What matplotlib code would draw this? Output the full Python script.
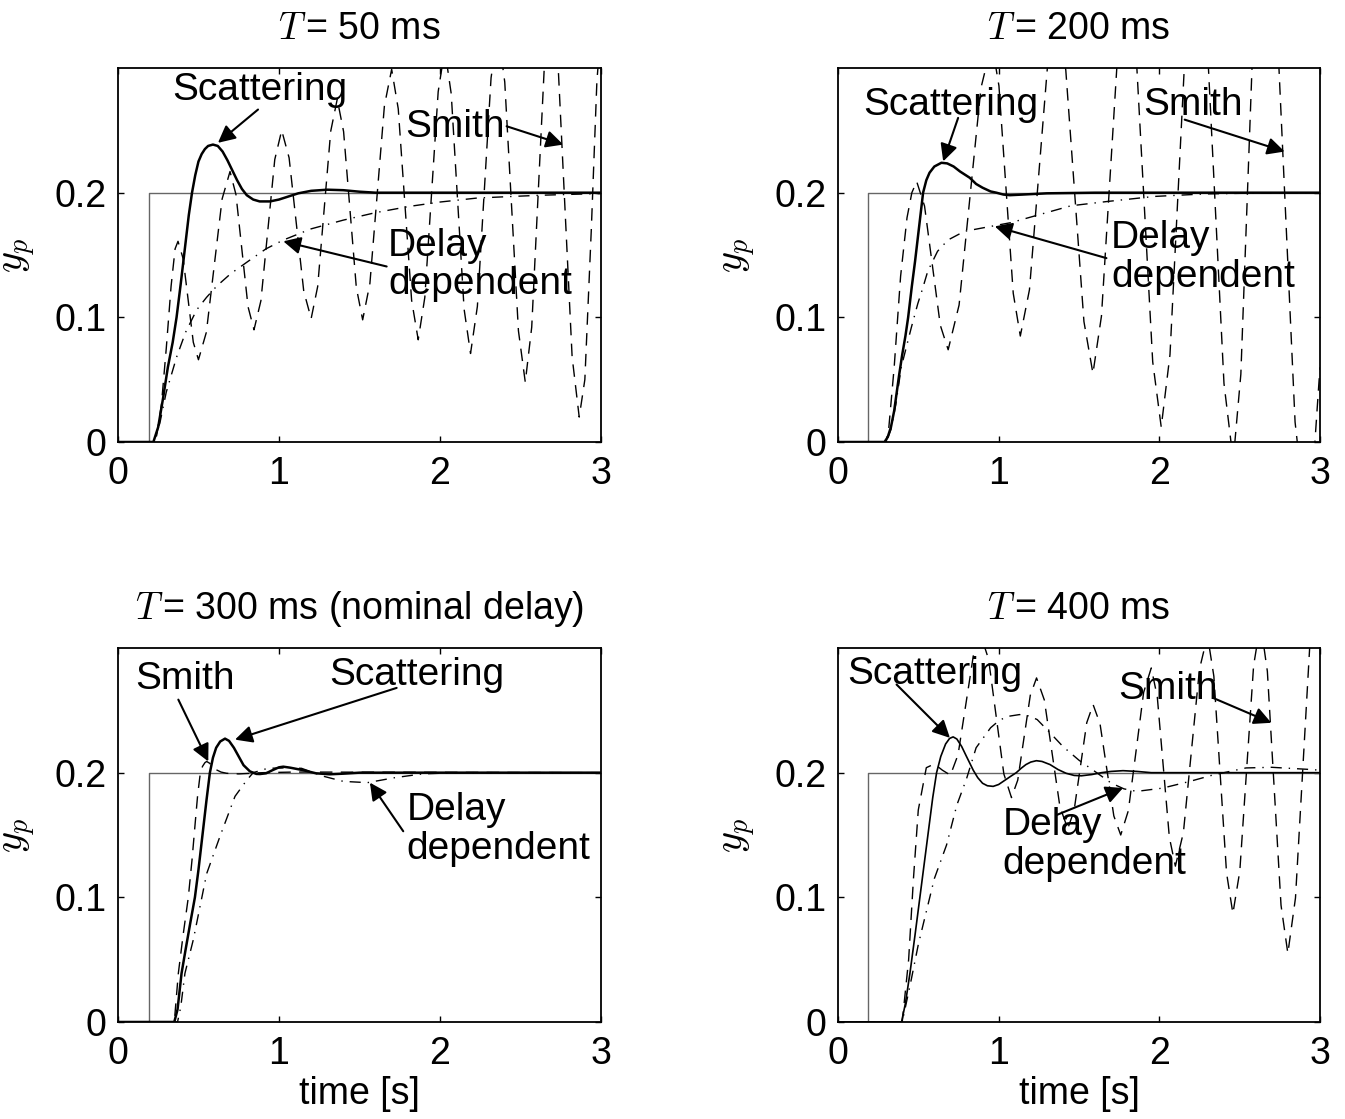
import matplotlib
matplotlib.use("Agg")
import matplotlib.pyplot as plt

plt.rcParams['font.family'] = ['Liberation Sans', 'DejaVu Sans']
plt.rcParams['mathtext.fontset'] = 'cm'

# ---------------- data ----------------
titles = ["$T\\,$= 50 ms", "$T\\,$= 200 ms", "$T\\,$= 300 ms (nominal delay)", "$T\\,$= 400 ms"]
x_ticks = [0, 1, 2, 3]
y_ticks = [0, 0.1, 0.2]
y_tick_labels = ["0", "0.1", "0.2"]

ref_t = [0, 0.19, 0.19, 3.0]
ref_y = [0, 0, 0.2, 0.2]

# T = 50 ms
scat50_t = [0, 0.22, 0.25, 0.28, 0.31, 0.34, 0.364, 0.39, 0.42, 0.44, 0.46, 0.48, 0.50, 0.52, 0.54, 0.56, 0.59,
            0.62, 0.65, 0.68, 0.71, 0.74, 0.77, 0.80, 0.84, 0.88, 0.944, 1.0, 1.06, 1.12, 1.2, 1.3, 1.4, 1.5, 1.6, 3.0]
scat50_y = [0, 0, 0.012, 0.035, 0.06, 0.08, 0.1, 0.127, 0.16, 0.182, 0.2, 0.214, 0.225, 0.231, 0.235, 0.2375, 0.2386,
            0.2375, 0.233, 0.226, 0.218, 0.210, 0.203, 0.198, 0.1945, 0.193, 0.193, 0.1945, 0.197, 0.1995, 0.2015, 0.2024, 0.202, 0.2008, 0.2, 0.2]
smith50_t = [0, 0.22, 0.24, 0.27, 0.30, 0.33, 0.355, 0.373, 0.405, 0.4365, 0.468, 0.50, 0.549, 0.598, 0.647,
             0.696, 0.733, 0.7705, 0.808, 0.845, 0.888, 0.931, 0.974, 1.017, 1.063, 1.1085, 1.154, 1.20,
             1.2405, 1.281, 1.3215, 1.362, 1.4015, 1.441, 1.4805, 1.52, 1.565, 1.61, 1.655, 1.70, 1.741,
             1.7825, 1.824, 1.865, 1.906, 1.9475, 1.989, 2.03, 2.07, 2.11, 2.15, 2.19, 2.2325, 2.275,
             2.3175, 2.36, 2.4025, 2.445, 2.4875, 2.53, 2.57, 2.61, 2.65, 2.69, 2.734, 2.7775, 2.821,
             2.865, 2.90, 2.94, 2.975, 3.0]
smith50_y = [0, 0, 0.005, 0.03, 0.075, 0.125, 0.155, 0.161, 0.147, 0.1135, 0.080, 0.066, 0.088, 0.1415, 0.195,
             0.217, 0.1985, 0.1535, 0.1085, 0.09, 0.1134, 0.17, 0.2266, 0.250, 0.228, 0.1745, 0.121, 0.099,
             0.1247, 0.187, 0.2493, 0.275, 0.249, 0.1865, 0.124, 0.098, 0.1273, 0.1985, 0.2697, 0.299, 0.2673,
             0.1905, 0.1137, 0.082, 0.116, 0.1985, 0.281, 0.315, 0.2794, 0.193, 0.1066, 0.071, 0.1088, 0.2005,
             0.2922, 0.33, 0.2888, 0.189, 0.0892, 0.048, 0.0921, 0.199, 0.3059, 0.35, 0.3018, 0.185, 0.0682,
             0.02, 0.05, 0.17, 0.29, 0.33]
delay50_t = [0, 0.22, 0.26, 0.30, 0.364, 0.42, 0.489, 0.55, 0.613, 0.70, 0.82, 0.92, 1.027, 1.2, 1.40, 1.6, 1.81, 2.0, 2.23, 2.45, 2.64, 2.85, 3.0]
delay50_y = [0, 0, 0.015, 0.04, 0.068, 0.088, 0.106, 0.116, 0.125, 0.135, 0.146, 0.155, 0.162, 0.171, 0.178, 0.184, 0.189, 0.1925, 0.1957, 0.197, 0.198, 0.1988, 0.1993]

# T = 200 ms
scat200_t = [0, 0.29, 0.31, 0.33, 0.35, 0.365, 0.38, 0.40, 0.42, 0.437, 0.46, 0.48, 0.50, 0.53, 0.55, 0.57, 0.60,
             0.644, 0.68, 0.72, 0.76, 0.82, 0.86, 0.90, 0.95, 0.986, 1.03, 1.07, 1.15, 1.3, 1.6, 3.0]
scat200_y = [0, 0, 0.004, 0.012, 0.025, 0.039, 0.053, 0.07, 0.085, 0.1, 0.125, 0.145, 0.167, 0.2, 0.21, 0.216, 0.221,
             0.224, 0.2235, 0.221, 0.217, 0.212, 0.207, 0.204, 0.201, 0.2, 0.1985, 0.198, 0.1985, 0.1995, 0.2, 0.2]
smith200_t = [0, 0.30, 0.317, 0.35, 0.39, 0.43, 0.46, 0.49, 0.539, 0.588, 0.637, 0.686, 0.754, 0.822, 0.89,
              0.958, 1.002, 1.0465, 1.091, 1.135, 1.192, 1.2485, 1.305, 1.362, 1.418, 1.4745, 1.531, 1.587,
              1.640, 1.6935, 1.747, 1.80, 1.853, 1.906, 1.959, 2.012, 2.0665, 2.121, 2.1755, 2.23, 2.2875,
              2.345, 2.4025, 2.46, 2.5075, 2.555, 2.6025, 2.65, 2.715, 2.78, 2.845, 2.91, 2.95, 3.0]
smith200_y = [0, 0, 0.012, 0.06, 0.133, 0.18, 0.2, 0.209, 0.1893, 0.1415, 0.0937, 0.074, 0.1099, 0.197, 0.284,
              0.32, 0.2857, 0.2025, 0.1193, 0.085, 0.1222, 0.2125, 0.3028, 0.34, 0.2984, 0.1975, 0.0966, 0.055,
              0.101, 0.2125, 0.324, 0.37, 0.3177, 0.191, 0.0643, 0.012, 0.0701, 0.211, 0.352, 0.41, 0.348,
              0.1975, 0.047, -0.015, 0.0544, 0.2225, 0.3907, 0.46, 0.384, 0.2, 0.016, -0.06, -0.035, 0.06]
delay200_t = [0, 0.30, 0.33, 0.36, 0.394, 0.456, 0.497, 0.528, 0.559, 0.62, 0.684, 0.787, 0.911, 1.077, 1.243, 1.45, 1.68, 1.97, 2.28, 2.6, 3.0]
delay200_y = [0, 0, 0.01, 0.03, 0.06, 0.0915, 0.111, 0.1235, 0.137, 0.153, 0.162, 0.169, 0.172, 0.176, 0.182, 0.1895, 0.193, 0.197, 0.199, 0.1997, 0.2]

# T = 300 ms
scat300_t = [0, 0.35, 0.37, 0.395, 0.42, 0.45, 0.478, 0.50, 0.525, 0.55, 0.571, 0.59, 0.61, 0.635, 0.665, 0.69, 0.72,
             0.75, 0.78, 0.82, 0.86, 0.882, 0.92, 0.96, 1.0, 1.027, 1.07, 1.15, 1.23, 1.315, 1.4, 1.5, 3.0]
scat300_y = [0, 0, 0.01, 0.039, 0.058, 0.08, 0.1, 0.122, 0.15, 0.178, 0.2, 0.212, 0.22, 0.225, 0.2273, 0.2255, 0.22,
             0.213, 0.206, 0.201, 0.199, 0.1989, 0.1995, 0.202, 0.2043, 0.2048, 0.204, 0.202, 0.1995, 0.1987, 0.1992, 0.2, 0.2]
smith300_t = [0, 0.35, 0.375, 0.405, 0.437, 0.46, 0.48, 0.495, 0.509, 0.525, 0.54, 0.551, 0.57, 0.60, 0.64, 0.675, 0.75, 0.9, 1.1, 3.0]
smith300_y = [0, 0, 0.039, 0.07, 0.1, 0.13, 0.16, 0.182, 0.197, 0.205, 0.208, 0.209, 0.2075, 0.203, 0.2005, 0.1995, 0.199, 0.2, 0.2005, 0.2]
delay300_t = [0, 0.37, 0.39, 0.416, 0.468, 0.551, 0.634, 0.727, 0.80, 0.84, 0.93, 1.03, 1.14, 1.28, 1.40, 1.55, 1.72, 1.89, 2.1, 3.0]
delay300_y = [0, 0, 0.012, 0.039, 0.066, 0.119, 0.149, 0.181, 0.194, 0.2, 0.2035, 0.2038, 0.2035, 0.197, 0.193, 0.192, 0.196, 0.199, 0.2, 0.2]

# T = 400 ms
scat400_t = [0, 0.396, 0.42, 0.448, 0.48, 0.51, 0.535, 0.56, 0.59, 0.614, 0.64, 0.67, 0.695, 0.717, 0.74, 0.77, 0.80,
             0.842, 0.87, 0.90, 0.93, 0.966, 1.0, 1.04, 1.08, 1.11, 1.14, 1.17, 1.20, 1.235, 1.27, 1.32, 1.37, 1.42,
             1.47, 1.515, 1.58, 1.64, 1.70, 1.774, 1.86, 1.95, 3.0]
scat400_y = [0, 0, 0.015, 0.039, 0.07, 0.1, 0.125, 0.15, 0.18, 0.2, 0.213, 0.223, 0.2275, 0.2287, 0.227, 0.221, 0.213,
             0.202, 0.196, 0.1915, 0.1895, 0.189, 0.1905, 0.194, 0.1975, 0.2, 0.2035, 0.2065, 0.2085, 0.2096, 0.209, 0.2065, 0.2025, 0.1995,
             0.1978, 0.1975, 0.1985, 0.2, 0.201, 0.2016, 0.201, 0.2, 0.2]
smith400_t = [0, 0.40, 0.44, 0.47, 0.50, 0.55, 0.60, 0.65, 0.70, 0.7475, 0.795, 0.8425, 0.89, 0.9375, 0.985,
              1.0325, 1.08, 1.119, 1.158, 1.197, 1.236, 1.2845, 1.333, 1.3815, 1.43, 1.4695, 1.509, 1.5485,
              1.588, 1.631, 1.674, 1.717, 1.76, 1.8075, 1.855, 1.9025, 1.95, 1.9875, 2.025, 2.0625, 2.10,
              2.15, 2.20, 2.25, 2.30, 2.3395, 2.379, 2.4185, 2.458, 2.501, 2.544, 2.587, 2.63, 2.6725, 2.715,
              2.7575, 2.80, 2.8475, 2.895, 2.9425, 3.0]
smith400_y = [0, 0, 0.05, 0.115, 0.17, 0.204, 0.207, 0.202, 0.198, 0.2144, 0.254, 0.2937, 0.31, 0.291, 0.245,
              0.199, 0.18, 0.194, 0.228, 0.262, 0.276, 0.2583, 0.2155, 0.1727, 0.155, 0.1695, 0.2048, 0.2401,
              0.2546, 0.2393, 0.2023, 0.1653, 0.15, 0.1696, 0.217, 0.2644, 0.284, 0.2608, 0.2045, 0.1482, 0.125,
              0.152, 0.2175, 0.283, 0.31, 0.2774, 0.1985, 0.1196, 0.087, 0.121, 0.2035, 0.286, 0.32, 0.2813, 0.1875,
              0.0937, 0.055, 0.0995, 0.2075, 0.3155, 0.36]
delay400_t = [0, 0.40, 0.45, 0.50, 0.53, 0.60, 0.676, 0.74, 0.80, 0.86, 0.95, 1.0, 1.05, 1.13, 1.19, 1.24, 1.32, 1.40,
              1.50, 1.61, 1.70, 1.78, 1.86, 2.02, 2.19, 2.33, 2.54, 2.70, 2.92, 3.0]
delay400_y = [0, 0, 0.03, 0.062, 0.078, 0.115, 0.142, 0.174, 0.195, 0.22, 0.236, 0.2415, 0.245, 0.2466, 0.2455, 0.2426, 0.232, 0.221,
              0.21, 0.2, 0.1917, 0.187, 0.185, 0.1876, 0.193, 0.198, 0.2038, 0.2043, 0.2027, 0.202]

series = [
    (scat50_t, scat50_y, smith50_t, smith50_y, delay50_t, delay50_y),
    (scat200_t, scat200_y, smith200_t, smith200_y, delay200_t, delay200_y),
    (scat300_t, scat300_y, smith300_t, smith300_y, delay300_t, delay300_y),
    (scat400_t, scat400_y, smith400_t, smith400_y, delay400_t, delay400_y),
]

# annotations: (text, text_xy, ha, tail_xy, tip_xy)
annots = [
    [("Scattering", (0.882, 0.2827), 'center', (0.87, 0.2667), (0.621, 0.240)),
     ("Smith", (2.093, 0.253), 'center', (2.414, 0.2533), (2.766, 0.2386)),
     ("Delay\ndependent", (1.677, 0.142), 'left', (1.669, 0.1408), (1.027, 0.161))],
    [("Scattering", (0.703, 0.2707), 'center', (0.748, 0.26), (0.655, 0.2251)),
     ("Smith", (2.208, 0.270), 'center', (2.158, 0.2586), (2.78, 0.233)),
     ("Delay\ndependent", (1.70, 0.148), 'left', (1.671, 0.1475), (0.976, 0.173))],
    [("Smith", (0.416, 0.2755), 'center', (0.375, 0.2586), (0.561, 0.209)),
     ("Scattering", (1.857, 0.278), 'center', (1.731, 0.268), (0.727, 0.2265)),
     ("Delay\ndependent", (1.791, 0.1545), 'left', (1.772, 0.153), (1.565, 0.192))],
    [("Scattering", (0.603, 0.2795), 'center', (0.365, 0.2707), (0.697, 0.2279)),
     ("Smith", (2.052, 0.2675), 'center', (2.334, 0.26), (2.697, 0.24)),
     ("Delay\ndependent", (1.026, 0.1425), 'left', (1.36, 0.166), (1.774, 0.1877))],
]

positions = [
    [0.0877, 0.605, 0.3591, 0.3342],
    [0.623, 0.605, 0.3584, 0.3342],
    [0.0877, 0.0867, 0.3591, 0.3342],
    [0.623, 0.0867, 0.3584, 0.3342],
]

FS = 27

fig = plt.figure(figsize=(13.45, 11.19), dpi=100)
for i in range(4):
    ax = fig.add_axes(positions[i])
    st, sy, mt, my, dt, dy = series[i]
    ax.plot(ref_t, ref_y, color='0.4', lw=1.0)
    ax.plot(mt, my, color='k', lw=1.0, dashes=(9, 6))
    ax.plot(dt, dy, color='k', lw=1.0, dashes=(8, 5, 1, 5))
    ax.plot(st, sy, color='k', lw=1.2 if i == 3 else 1.8)
    ax.set_xlim(0, 3)
    ax.set_ylim(0, 0.3)
    ax.set_xticks(x_ticks)
    ax.set_yticks(y_ticks)
    ax.set_yticklabels(y_tick_labels)
    ax.tick_params(direction='in', length=4, width=1, top=True, right=True,
                   labelsize=FS)
    ax.tick_params(axis='x', pad=10)
    ax.tick_params(axis='y', pad=8)
    for sp in ax.spines.values():
        sp.set_linewidth(1.3)
    ax.set_title(titles[i], fontsize=FS, pad=21)
    ax.set_ylabel("$y_p$", fontsize=FS + 2, labelpad=12)
    if i >= 2:
        ax.set_xlabel("time [s]", fontsize=FS, labelpad=3)
    for text, txy, ha, tail, tip in annots[i]:
        if ha == 'left':
            ax.text(txy[0], txy[1], text, fontsize=FS + 1, ha='left', va='center', linespacing=1.1)
        else:
            ax.text(txy[0], txy[1], text, fontsize=FS + 1, ha='center', va='center')
        ax.annotate('', xy=tip, xytext=tail,
                    arrowprops=dict(arrowstyle='-|>', color='k', lw=1.5,
                                    mutation_scale=26, shrinkA=0, shrinkB=0))

fig.savefig("out.png", dpi=100)
